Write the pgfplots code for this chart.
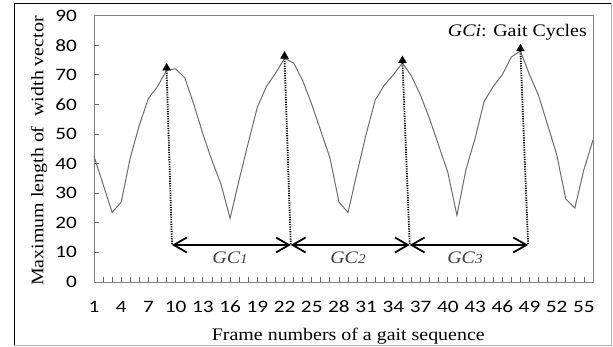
\documentclass[border=0pt]{standalone}
\usepackage{pgfplots}
\pgfplotsset{compat=1.18}
\usepackage{fontspec}
\setmainfont{Liberation Serif}[FakeStretch=1.13]
\newfontfamily\calibri{Carlito}[FakeStretch=1.22]
\usetikzlibrary{arrows.meta}
\pgfplotstableread{
x y
1 42.5
2 33
3 23.5
4 27
5 42
6 53
7 62
8 66
9 71.5
10 72
11 69
12 60
13 50
14 41
15 33
16 21.5
17 34.5
18 47
19 59
20 66
21 70.5
22 75.5
23 74
24 68
25 60
26 51
27 42
28 27
29 23.5
30 37
31 50
32 61.5
33 66.5
34 70
35 74
36 69.5
37 63
38 55
39 46
40 37
41 22.5
42 38
43 48.5
44 61
45 66
46 70
47 76
48 78
49 70
50 63
51 53
52 43
53 28
54 25
55 38
56 48
}\gaitdata
\begin{document}
\begin{tikzpicture}[x=1bp,y=1bp]
\useasboundingbox (0,0) rectangle (613,346);
\begin{axis}[
  at={(94bp,64bp)}, anchor=south west,
  scale only axis, width=499bp, height=266.5bp,
  xmin=1, xmax=56, ymin=0, ymax=90,
  xtick={1,4,...,55}, minor xtick={1,...,56},
  ytick={0,10,...,90},
  tick align=inside, tick pos=left,
  major tick length=5bp, minor tick length=5bp,
  major tick style={gray!80!black, line width=0.8bp},
  minor tick style={gray!80!black, line width=0.8bp},
  axis line style={gray, line width=1bp},
  tick label style={font=\calibri\fontsize{17.5}{17.5}\selectfont, black},
  /pgf/number format/assume math mode=true,
  x tick label style={yshift=-15.5bp},
  y tick label style={xshift=-13.5bp},
  clip=false,
]
\addplot[gray!85!black, line width=1bp, mark=none] table[x=x,y=y] {\gaitdata};
\addplot[black, line width=1.8bp, dash pattern=on 1.2bp off 1.2bp] coordinates {(9,71.5) (9.6,12.5)};
\addplot[black, line width=1.8bp, dash pattern=on 1.2bp off 1.2bp] coordinates {(22,75.5) (22.69,12.5)};
\addplot[black, line width=1.8bp, dash pattern=on 1.2bp off 1.2bp] coordinates {(35,74) (35.8,12.5)};
\addplot[black, line width=1.8bp, dash pattern=on 1.2bp off 1.2bp] coordinates {(48,78) (48.85,12.5)};
\addplot[black, line width=1.8bp, {Straight Barb[length=13bp,width=15bp]}-{Straight Barb[length=13bp,width=15bp]}] coordinates {(9.6,12.5) (22.69,12.5)};
\addplot[black, line width=1.8bp, {Straight Barb[length=13bp,width=15bp]}-{Straight Barb[length=13bp,width=15bp]}] coordinates {(22.69,12.5) (35.8,12.5)};
\addplot[black, line width=1.8bp, {Straight Barb[length=13bp,width=15bp]}-{Straight Barb[length=13bp,width=15bp]}] coordinates {(35.8,12.5) (48.85,12.5)};
\addplot[only marks, mark=triangle*, mark size=4.5bp, black] coordinates {(9,72.3) (22,76.3) (35,74.8) (48,78.8)};
\node[font=\fontsize{17.7}{17.7}\selectfont, text=black!75] at (axis cs:16,8.1) {\textit{GC}{\fontsize{13.5}{13.5}\selectfont\textit{1}}};
\node[font=\fontsize{17.7}{17.7}\selectfont, text=black!75] at (axis cs:29,8.1) {\textit{GC}{\fontsize{13.5}{13.5}\selectfont\textit{2}}};
\node[font=\fontsize{17.7}{17.7}\selectfont, text=black!75] at (axis cs:41.9,8.1) {\textit{GC}{\fontsize{13.5}{13.5}\selectfont\textit{3}}};
\end{axis}
\draw[black, line width=1.2bp] (14,342.7) -- (611,342.7);
\draw[black, line width=1bp] (14,1) -- (14,342.7);
\draw[gray!60, line width=1bp] (611,342.7) -- (611,1) -- (14,1);
\node[anchor=base east, inner sep=0pt, font=\fontsize{17.7}{17.7}\selectfont] at (587,309.3) {\textit{GCi}: Gait Cycles};
\node[anchor=base, inner sep=0pt, font=\fontsize{17.7}{17.7}\selectfont] at (348.3,6) {Frame numbers of a gait sequence};
\node[anchor=base, rotate=90, inner sep=0pt, font=\fontsize{17.7}{17.7}\selectfont] at (43.3,195) {Maximum length of\ \ width vector};
\end{tikzpicture}
\end{document}
